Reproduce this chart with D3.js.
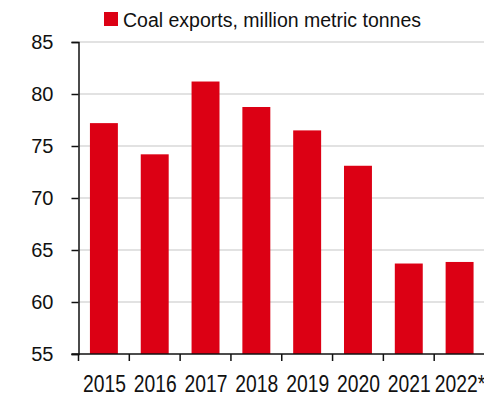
<!DOCTYPE html>
<html>
<head>
<meta charset="utf-8">
<script src="https://cdn.jsdelivr.net/npm/d3@7"></script>
<style>
  body { margin: 0; background: #fff; }
  svg text { font-family: "Liberation Sans", Arial, sans-serif; fill: #111; }
</style>
</head>
<body>
<div id="chart"></div>
<script>
// data
const years = ['2015', '2016', '2017', '2018', '2019', '2020', '2021', '2022*'];
const coalExports = [77.2, 74.2, 81.2, 78.75, 76.5, 73.1, 63.7, 63.85];
const yTicks = [55, 60, 65, 70, 75, 80, 85];
const seriesName = 'Coal exports, million metric tonnes';

const width = 484, height = 397;
const margin = { top: 42, right: -1, bottom: 43, left: 78.5 };
const barColor = '#dc0014';

const svg = d3.select('#chart')
    .append('svg')
    .attr('width', width)
    .attr('height', height);

const x = d3.scaleBand()
    .domain(years)
    .range([margin.left, width - margin.right])
    .padding(0);

const y = d3.scaleLinear()
    .domain([55, 85])
    .range([height - margin.bottom, margin.top]);

// gridlines
svg.append('g')
    .attr('class', 'grid')
    .selectAll('line')
    .data(yTicks.filter(d => d !== 55))
    .join('line')
    .attr('x1', margin.left)
    .attr('x2', width)
    .attr('y1', d => y(d))
    .attr('y2', d => y(d))
    .attr('stroke', '#d9d9d9')
    .attr('stroke-width', 1.3);

// bars
const barW = x.bandwidth() * 0.55;
svg.append('g')
    .selectAll('rect')
    .data(years.map((yr, i) => ({ year: yr, value: coalExports[i] })))
    .join('rect')
    .attr('x', d => x(d.year) + (x.bandwidth() - barW) / 2)
    .attr('width', barW)
    .attr('y', d => y(d.value))
    .attr('height', d => y(55) - y(d.value))
    .attr('fill', barColor);

// y axis
const yAxis = d3.axisLeft(y)
    .tickValues(yTicks)
    .tickSize(7)
    .tickPadding(18)
    .tickFormat(d3.format('d'));

const gy = svg.append('g')
    .attr('transform', `translate(${margin.left},0)`)
    .call(yAxis);
gy.select('.domain').attr('stroke', '#111').attr('stroke-width', 1.5);
gy.selectAll('.tick line').attr('stroke', '#111').attr('stroke-width', 1.5);
gy.selectAll('.tick text')
    .attr('font-size', '20px')
    .attr('font-family', '"Liberation Sans", Arial, sans-serif')
    .attr('fill', '#111');

// x axis: ticks at band boundaries
const gx = svg.append('g')
    .attr('transform', `translate(0,${y(55)})`);
gx.append('line')
    .attr('x1', margin.left - 7)
    .attr('x2', width)
    .attr('stroke', '#111')
    .attr('stroke-width', 1.5);
gx.selectAll('.xtick')
    .data(years)
    .join('line')
    .attr('class', 'xtick')
    .attr('x1', d => x(d))
    .attr('x2', d => x(d))
    .attr('y1', 0)
    .attr('y2', 7)
    .attr('stroke', '#111')
    .attr('stroke-width', 1.5);
gx.selectAll('.xlabel')
    .data(years)
    .join('text')
    .attr('class', 'xlabel')
    .attr('text-anchor', 'middle')
    .attr('font-size', '23px')
    .attr('transform', d => `translate(${x(d) + x.bandwidth() / 2 + 0.5},37.5) scale(0.84,1)`)
    .text(d => d);

// legend
const legend = svg.append('g').attr('transform', 'translate(104,12)');
legend.append('rect')
    .attr('width', 14)
    .attr('height', 14)
    .attr('fill', barColor);
legend.append('text')
    .attr('x', 19)
    .attr('y', 14.5)
    .attr('font-size', '19.5px')
    .text(seriesName);
</script>
</body>
</html>
